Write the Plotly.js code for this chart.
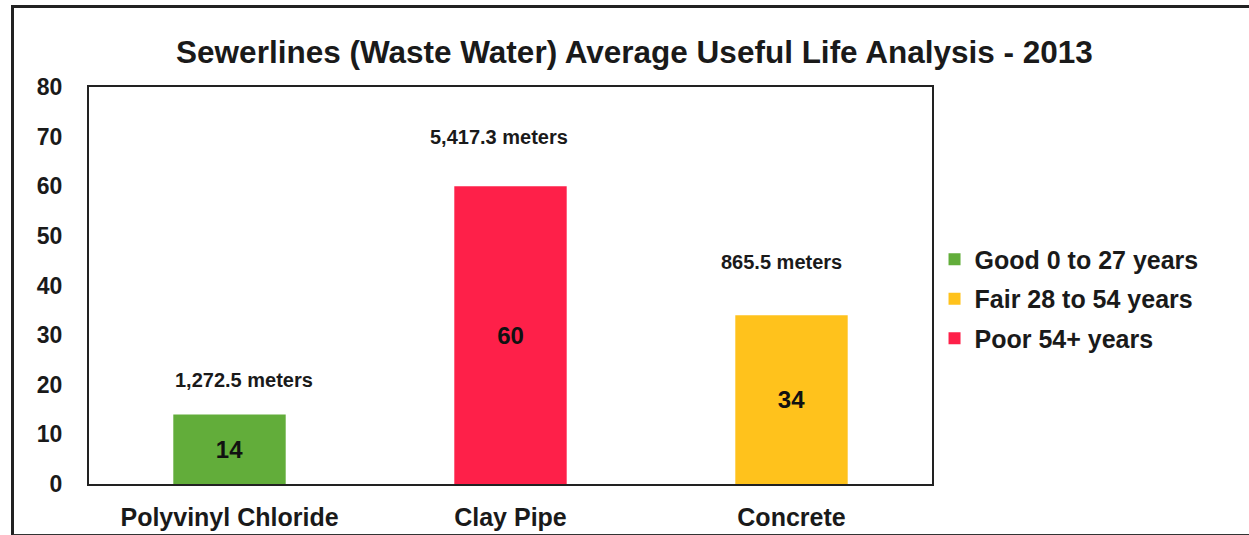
<!DOCTYPE html>
<html>
<head>
<meta charset="utf-8">
<script src="https://cdn.plot.ly/plotly-3.0.1.min.js"></script>
<style>
  body { margin: 0; background: #fff; }
  #wrap { position: relative; width: 1249px; height: 535px; overflow: hidden; }
  #plot { position: absolute; left: 0; top: 0; width: 1249px; height: 535px; }
  #frame { position: absolute; left: 11px; top: 5px; width: 1250px; height: 526px;
           border-left: 3px solid #222; border-top: 3px solid #222;
           border-bottom: 2px solid #333; pointer-events: none; }
</style>
</head>
<body>
<div id="wrap">
  <div id="plot"></div>
  <div id="frame"></div>
</div>
<script>
// pipe materials, in axis order
let materials = ['Polyvinyl Chloride', 'Clay Pipe', 'Concrete'];

// condition classes (legend order) and which material falls in each
let classNames = ['Good 0 to 27 years', 'Fair 28 to 54 years', 'Poor 54+ years'];
let classMaterial = ['Polyvinyl Chloride', 'Concrete', 'Clay Pipe'];
let classColors = ['#62ad3a', '#ffc21c', '#fe2049'];

// average age in years, by material
let avgAge = [14, 60, 34];
// pipe length, by material
let lengthLabels = ['1,272.5 meters', '5,417.3 meters', '865.5 meters'];

// label placement tweaks (px), by material
let labelLift = [22, 36, 40];
let labelNudge = [14, -12, -10];

let fontFam = 'Liberation Sans, Arial, sans-serif';

let traces = classNames.map(function (name, i) {
    let idx = materials.indexOf(classMaterial[i]);
    return {
        type: 'bar',
        name: name,
        legendgroup: 'g' + i,
        x: [classMaterial[i]],
        y: [avgAge[idx]],
        width: 0.4,
        marker: { color: classColors[i] },
        text: [String(avgAge[idx])],
        textposition: 'inside',
        insidetextanchor: 'middle',
        textangle: 0,
        textfont: { family: fontFam, size: 24, color: '#111', weight: 'bold' },
        hoverinfo: 'x+y'
    };
});

let annotations = materials.map(function (m, i) {
    return {
        x: m, y: avgAge[i], xref: 'x', yref: 'y',
        text: '<b>' + lengthLabels[i] + '</b>',
        showarrow: false, yanchor: 'bottom',
        yshift: labelLift[i], xshift: labelNudge[i],
        font: { family: fontFam, size: 20, color: '#1a1a1a' }
    };
});

let layout = {
    width: 1249,
    height: 535,
    margin: { l: 89, r: 317, t: 87, b: 51 },
    paper_bgcolor: '#fff',
    plot_bgcolor: '#fff',
    font: { family: fontFam, color: '#1a1a1a' },
    title: {
        text: '<b>Sewerlines (Waste Water) Average Useful Life Analysis - 2013</b>',
        font: { size: 31.5, color: '#1a1a1a' },
        x: 0.508, xanchor: 'center', y: 0.903, yanchor: 'middle'
    },
    barmode: 'overlay',
    showlegend: true,
    legend: {
        x: 1.003, xanchor: 'left', y: 0.466, yanchor: 'middle',
        font: { size: 25, color: '#1a1a1a', weight: 'bold' },
        traceorder: 'grouped',
        itemwidth: 30,
        tracegroupgap: 4
    },
    xaxis: {
        type: 'category',
        categoryorder: 'array',
        categoryarray: materials,
        showline: true, linecolor: '#222', linewidth: 2, mirror: true,
        ticks: '', ticklabelstandoff: 10,
        tickfont: { size: 25, color: '#1a1a1a', weight: 'bold' },
        showgrid: false, zeroline: false, fixedrange: true
    },
    yaxis: {
        range: [0, 80],
        dtick: 10,
        showline: true, linecolor: '#222', linewidth: 2, mirror: true,
        ticks: '', ticklabelstandoff: 20,
        tickfont: { size: 23, color: '#1a1a1a', weight: 'bold' },
        showgrid: false, zeroline: false, fixedrange: true
    },
    annotations: annotations
};

Plotly.newPlot('plot', traces, layout, { displayModeBar: false, staticPlot: true });
</script>
</body>
</html>
